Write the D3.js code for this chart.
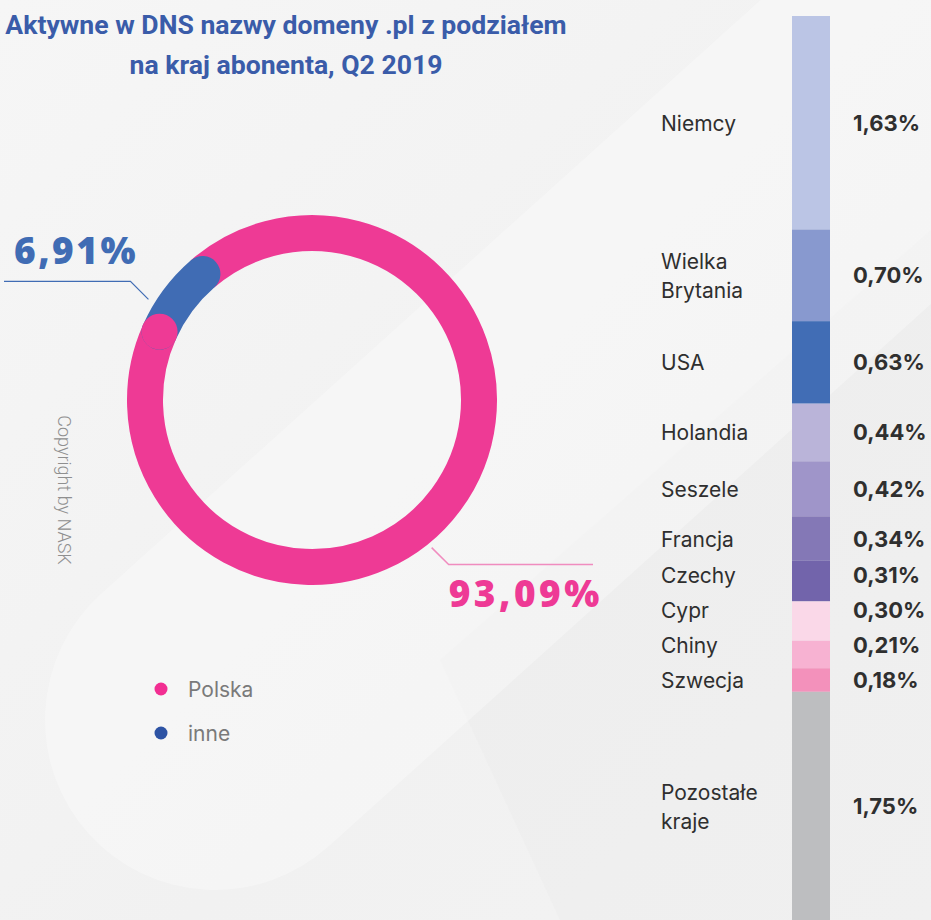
<!DOCTYPE html>
<html>
<head>
<meta charset="utf-8">
<script src="https://cdn.jsdelivr.net/npm/d3@7"></script>
<style>
  html, body { margin: 0; padding: 0; background: #f3f3f3; }
  svg { display: block; }
</style>
</head>
<body>
<svg width="931" height="920"></svg>
<script>
// donut: share of Polish subscribers vs. others
var donutNames = ["Polska", "inne"];
var donutValues = [93.09, 6.91];
var donutLabels = ["93,09%", "6,91%"];

// stacked bar: breakdown of the "inne" part
var countries = ["Niemcy", "Wielka Brytania", "USA", "Holandia", "Seszele", "Francja",
                 "Czechy", "Cypr", "Chiny", "Szwecja", "Pozostałe kraje"];
var shares = [1.63, 0.70, 0.63, 0.44, 0.42, 0.34, 0.31, 0.30, 0.21, 0.18, 1.75];
var shareLabels = ["1,63%", "0,70%", "0,63%", "0,44%", "0,42%", "0,34%",
                   "0,31%", "0,30%", "0,21%", "0,18%", "1,75%"];

var title = ["Aktywne w DNS nazwy domeny .pl z podziałem", "na kraj abonenta, Q2 2019"];

var donutColor = d3.scaleOrdinal().domain(donutNames).range(["#ee3a95", "#406cb4"]);
var legendColor = d3.scaleOrdinal().domain(donutNames).range(["#f22e92", "#2d53a4"]);
var barColor = d3.scaleOrdinal().domain(countries)
  .range(["#bbc5e5", "#8899cf", "#416db5", "#bab4d9", "#9f95c9", "#8478b6",
          "#7264ab", "#fad8e8", "#f7b2d2", "#f391bb", "#bdbec0"]);

var svg = d3.select("svg"),
    width = +svg.attr("width"),
    height = +svg.attr("height");

// background
var defs = svg.append("defs");
var bg = defs.append("linearGradient").attr("id", "bg")
  .attr("x1", 0).attr("y1", 0).attr("x2", 1).attr("y2", 1);
bg.append("stop").attr("offset", "0%").attr("stop-color", "#f6f6f6");
bg.append("stop").attr("offset", "60%").attr("stop-color", "#f1f1f1");
bg.append("stop").attr("offset", "100%").attr("stop-color", "#f3f3f3");
svg.append("rect").attr("width", width).attr("height", height).attr("fill", "url(#bg)");

svg.append("path")
  .attr("d", "M440,660 L931,230 L931,920 L560,920 Z")
  .attr("fill", "#ececec").attr("opacity", 0.4);
svg.append("rect")
  .attr("x", -170).attr("y", -170).attr("width", 1300).attr("height", 340).attr("rx", 170)
  .attr("transform", "translate(215,720) rotate(-42)")
  .attr("fill", "#ffffff").attr("opacity", 0.3);

// title
svg.append("text")
  .attr("x", 286).attr("y", 34)
  .attr("text-anchor", "middle")
  .attr("font-family", "Roboto, sans-serif")
  .attr("font-weight", 700)
  .attr("font-size", 26.6)
  .attr("fill", "#3a5ca9")
  .selectAll("tspan")
  .data(title)
  .enter().append("tspan")
    .attr("x", 286)
    .attr("dy", function(d, i) { return i ? 40 : 0; })
    .text(function(d) { return d; });

// donut
var cx = 312, cy = 400, rMid = 167, ring = 36;
var start = -41 * Math.PI / 180;
var pie = d3.pie().sort(null).startAngle(start).endAngle(start + 2 * Math.PI);
var arcs = pie(donutValues);

function arcPath(a0, a1) {
  var p = d3.path();
  p.arc(0, 0, rMid, a0 - Math.PI / 2, a1 - Math.PI / 2);
  return p.toString();
}
function polar(r, a) { return [cx + r * Math.sin(a), cy - r * Math.cos(a)]; }

var donut = svg.append("g").attr("transform", "translate(" + cx + "," + cy + ")");
donut.append("path")
  .attr("d", arcPath(arcs[0].startAngle, arcs[0].endAngle))
  .attr("fill", "none").attr("stroke", donutColor(donutNames[0]))
  .attr("stroke-width", ring);
donut.append("path")
  .attr("d", arcPath(arcs[1].startAngle, arcs[1].endAngle))
  .attr("fill", "none").attr("stroke", donutColor(donutNames[1]))
  .attr("stroke-width", ring).attr("stroke-linecap", "round");
donut.append("circle")
  .attr("cx", rMid * Math.sin(arcs[0].endAngle))
  .attr("cy", -rMid * Math.cos(arcs[0].endAngle))
  .attr("r", ring / 2)
  .attr("fill", donutColor(donutNames[0]));

// leader lines + value labels
var blueA = arcs[1].startAngle + (arcs[1].endAngle - arcs[1].startAngle) * 0.3;
var b0 = polar(192, blueA), b1 = [b0[0] - 18, b0[1] - 18];
svg.append("polyline")
  .attr("points", [b0, b1, [4, b1[1]]].join(" "))
  .attr("fill", "none").attr("stroke", "#406cb4").attr("stroke-width", 1.2);
svg.append("text")
  .attr("x", 14).attr("y", b1[1] - 17)
  .attr("font-family", "'Open Sans', sans-serif").attr("font-weight", 800)
  .attr("font-size", 37).attr("letter-spacing", 2.5)
  .attr("fill", donutColor(donutNames[1]))
  .text(donutLabels[1]);

var pinkA = arcs[0].startAngle + (arcs[0].endAngle - arcs[0].startAngle) * 0.543;
var p0 = polar(190, pinkA), p1 = [p0[0] + 17, p0[1] + 17];
svg.append("polyline")
  .attr("points", [p0, p1, [593, p1[1]]].join(" "))
  .attr("fill", "none").attr("stroke", "#f08cbf").attr("stroke-width", 1.5);
svg.append("text")
  .attr("x", p1[0]).attr("y", p1[1] + 42)
  .attr("font-family", "'Open Sans', sans-serif").attr("font-weight", 800)
  .attr("font-size", 37).attr("letter-spacing", 3.5)
  .attr("fill", donutColor(donutNames[0]))
  .text(donutLabels[0]);

// copyright
svg.append("text")
  .attr("transform", "translate(58,490) rotate(90)")
  .attr("text-anchor", "middle")
  .attr("font-family", "Roboto, sans-serif").attr("font-weight", 300)
  .attr("font-size", 18).attr("fill", "#8f8f8f")
  .text("Copyright by NASK");

// legend
var legend = svg.append("g").selectAll("g")
  .data(donutNames)
  .enter().append("g")
    .attr("transform", function(d, i) { return "translate(161," + (689 + i * 44) + ")"; });
legend.append("circle").attr("r", 6.5).attr("fill", function(d) { return legendColor(d); });
legend.append("text")
  .attr("x", 27).attr("y", 8)
  .attr("font-family", "Inter, sans-serif").attr("font-size", 21)
  .attr("fill", "#7a7a7a")
  .text(function(d) { return d; });

// stacked bar
var ends = d3.cumsum(shares);
var y = d3.scaleLinear().domain([0, d3.sum(shares)]).range([16, 921]);
var segs = countries.map(function(c, i) {
  return { name: c, value: shares[i], label: shareLabels[i],
           y0: y(ends[i] - shares[i]), y1: y(ends[i]) };
});

svg.append("g").selectAll("rect")
  .data(segs)
  .enter().append("rect")
    .attr("x", 792).attr("width", 38)
    .attr("y", function(d) { return d.y0; })
    .attr("height", function(d) { return d.y1 - d.y0; })
    .attr("fill", function(d) { return barColor(d.name); });

// label placement: centre on segment, then push up where they collide
var lineH = 29, gap = 6;
segs.forEach(function(d) {
  d.lines = d.name.split(" ");
  d.h = d.lines.length * lineH;
  d.c = (d.y0 + d.y1) / 2;
});
for (var i = segs.length - 2; i >= 0; i--) {
  var lim = segs[i + 1].c - (segs[i + 1].h + segs[i].h) / 2 - gap;
  if (segs[i].c > lim) segs[i].c = lim;
}

var labels = svg.append("g").selectAll("g")
  .data(segs)
  .enter().append("g");

labels.append("text")
  .attr("font-family", "Inter, sans-serif").attr("font-size", 21)
  .attr("fill", "#2f2f2f")
  .each(function(d) {
    var t = d3.select(this);
    var top = d.c - d.h / 2 + lineH / 2 + 8;
    d.lines.forEach(function(l, k) {
      t.append("tspan").attr("x", 661).attr("y", top + k * lineH).text(l);
    });
  });

labels.append("text")
  .attr("x", 853)
  .attr("y", function(d) { return d.c + 8; })
  .attr("font-family", "Inter, sans-serif").attr("font-weight", 700)
  .attr("font-size", 22).attr("fill", "#2f2f2f")
  .text(function(d) { return d.label; });
</script>
</body>
</html>
